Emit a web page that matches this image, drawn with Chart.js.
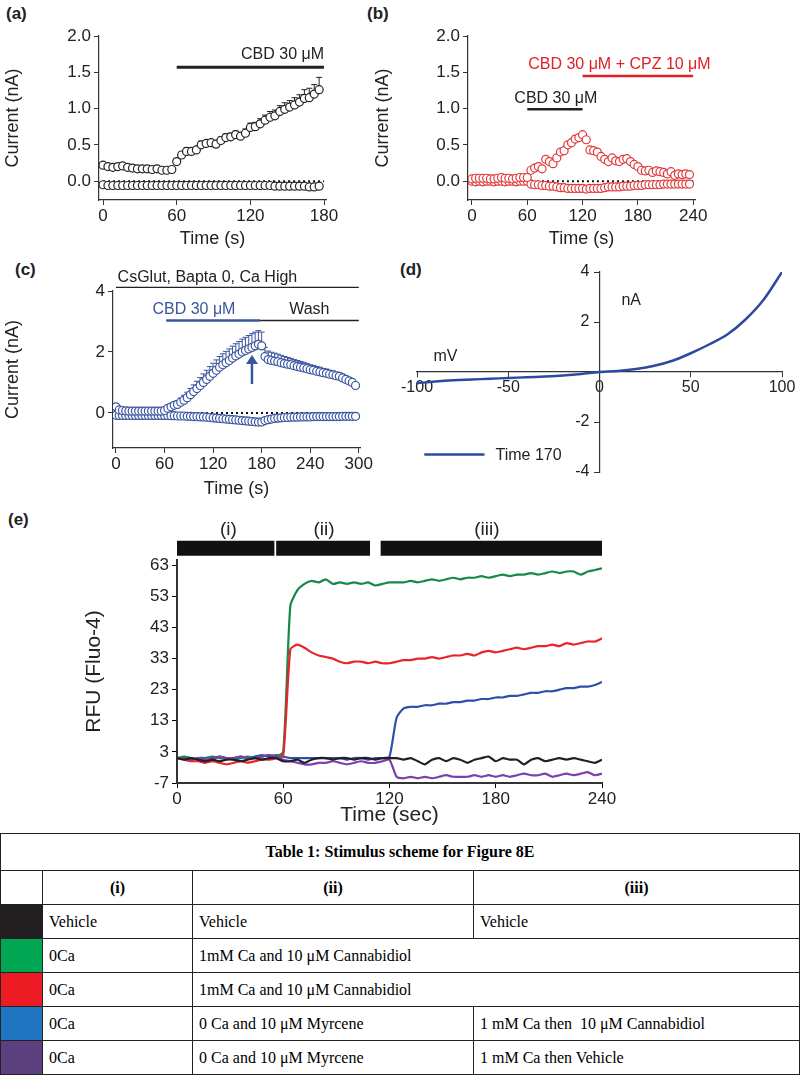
<!DOCTYPE html>
<html>
<head>
<meta charset="utf-8">
<script src="https://cdn.jsdelivr.net/npm/chart.js@4"></script>
<style>
  body { margin: 0; background: #fff; font-family: "Liberation Sans", Arial, sans-serif; }
  #wrap { position: relative; width: 800px; height: 1080px; }
  canvas { position: absolute; }
  .lbl { position: absolute; font-weight: bold; font-size: 17px; color: #222; }
  table { position: absolute; left: 0; top: 833px; width: 800px; border-collapse: collapse;
          font-family: "Liberation Serif", "Times New Roman", serif; font-size: 16px; }
  td, th { border: 1px solid #222; padding: 0 6px; height: 33px; text-align: left; }
  th { font-weight: bold; text-align: center; }
</style>
</head>
<body>
<div id="wrap">
  <div class="lbl" style="left:6px;top:4px">(a)</div>
  <div class="lbl" style="left:367px;top:4px">(b)</div>
  <div class="lbl" style="left:15px;top:260px">(c)</div>
  <div class="lbl" style="left:400px;top:260px">(d)</div>
  <div class="lbl" style="left:8px;top:510px">(e)</div>
  <canvas id="ca"></canvas>
  <canvas id="cb"></canvas>
  <canvas id="cc"></canvas>
  <canvas id="cd"></canvas>
  <canvas id="ce"></canvas>
  <table>
    <tr><th colspan="4" style="height:36px">Table 1: Stimulus scheme for Figure 8E</th></tr>
    <tr><th style="width:29px"></th><th style="width:137px">(i)</th><th style="width:268px">(ii)</th><th>(iii)</th></tr>
    <tr><td style="background:#231f20"></td><td>Vehicle</td><td>Vehicle</td><td>Vehicle</td></tr>
    <tr><td style="background:#00a651"></td><td>0Ca</td><td colspan="2">1mM Ca and 10 &mu;M Cannabidiol</td></tr>
    <tr><td style="background:#ed1c24"></td><td>0Ca</td><td colspan="2">1mM Ca and 10 &mu;M Cannabidiol</td></tr>
    <tr><td style="background:#1f75bf"></td><td>0Ca</td><td>0 Ca and 10 &mu;M Myrcene</td><td>1 mM Ca then&nbsp; 10 &mu;M Cannabidiol</td></tr>
    <tr><td style="background:#5b3f7e"></td><td>0Ca</td><td>0 Ca and 10 &mu;M Myrcene</td><td>1 mM Ca then Vehicle</td></tr>
  </table>
</div>
<script>
// (a) CBD 30 uM, muestras cada 4 s
const tiempoA = Array.from({ length: 45 }, (_, i) => i * 4);
const arribaA = [0.22,0.2,0.19,0.2,0.21,0.19,0.18,0.17,0.17,0.17,0.16,0.17,0.15,0.15,0.16,
  0.27,0.36,0.41,0.41,0.43,0.5,0.52,0.53,0.51,0.56,0.6,0.61,0.64,0.62,0.66,0.74,0.75,0.79,0.84,0.88,
  0.9,0.96,0.99,1.02,1.05,1.09,1.14,1.15,1.2,1.26];
const errorA = [0.03,0.03,0.03,0.03,0.03,0.03,0.03,0.03,0.03,0.03,0.03,0.03,0.03,0.03,0.03,
  0.03,0.04,0.05,0.04,0.04,0.05,0.04,0.04,0.04,0.05,0.05,0.05,0.05,0.05,0.06,0.06,0.06,0.07,0.07,0.08,
  0.08,0.08,0.09,0.09,0.1,0.1,0.12,0.13,0.13,0.17];
const abajoA = [-0.05,-0.06,-0.06,-0.06,-0.06,-0.06,-0.06,-0.06,-0.06,-0.06,-0.06,-0.06,-0.06,-0.06,-0.06,
  -0.06,-0.06,-0.06,-0.06,-0.06,-0.06,-0.06,-0.06,-0.06,-0.06,-0.06,-0.06,-0.06,-0.06,-0.06,-0.06,-0.06,-0.06,-0.06,-0.06,
  -0.07,-0.07,-0.07,-0.07,-0.07,-0.07,-0.07,-0.08,-0.08,-0.07];
const ticksXA = [0, 60, 120, 180];
const ticksY_AB = [0, 0.5, 1, 1.5, 2];

// (b) CBD + CPZ
const tiempoB = Array.from({ length: 60 }, (_, i) => i * 4);
const arribaB = [0.03,0.04,0.04,0.04,0.04,0.03,0.03,0.04,0.05,0.04,0.04,0.03,0.04,0.05,0.05,
  0.05,0.15,0.18,0.2,0.17,0.3,0.27,0.24,0.32,0.4,0.42,0.5,0.53,0.58,0.6,0.64,
  0.57,0.43,0.42,0.4,0.34,0.3,0.27,0.32,0.28,0.27,0.3,0.31,0.27,0.23,0.2,0.15,0.14,0.15,0.12,0.14,
  0.13,0.12,0.1,0.13,0.08,0.1,0.09,0.1,0.09];
const abajoB = [0,-0.01,0,-0.01,0,0,-0.01,0,0,-0.01,0,0,-0.01,0,0,
  0,-0.04,-0.05,-0.05,-0.06,-0.06,-0.07,-0.07,-0.08,-0.09,-0.09,-0.1,-0.1,-0.1,-0.1,-0.1,
  -0.11,-0.1,-0.1,-0.1,-0.1,-0.09,-0.08,-0.08,-0.08,-0.08,-0.07,-0.07,-0.07,-0.06,-0.06,-0.06,-0.05,-0.05,-0.05,-0.05,
  -0.05,-0.04,-0.04,-0.04,-0.04,-0.04,-0.04,-0.04,-0.04];
const ticksXB = [0, 60, 120, 180, 240];

// (c) CsGlut
const tiempoC = Array.from({ length: 75 }, (_, i) => i * 4);
const arribaC = [0.2,0.1,0.08,0.07,0.06,0.06,0.06,0.06,0.06,0.06,0.06,0.06,0.06,0.06,0.06,0.08,
  0.15,0.2,0.25,0.28,0.35,0.42,0.5,0.6,0.7,0.8,0.9,1.0,1.1,1.2,1.3,1.4,1.5,1.58,1.65,1.72,1.8,1.87,1.93,2.0,2.05,2.1,2.15,2.2,2.25,
  2.2,1.85,1.75,1.72,1.7,1.68,1.65,1.62,1.6,1.58,1.55,1.52,1.5,1.48,1.45,1.42,1.4,1.37,1.35,1.32,
  1.3,1.27,1.25,1.22,1.2,1.15,1.1,1.05,1.0,0.9];
const errorC = [0.05,0.05,0.05,0.05,0.05,0.05,0.05,0.05,0.05,0.05,0.05,0.05,0.05,0.05,0.05,0.05,
  0.06,0.08,0.1,0.12,0.14,0.16,0.18,0.2,0.22,0.24,0.26,0.28,0.3,0.32,0.33,0.34,0.35,0.36,0.37,0.38,0.39,0.4,0.41,0.42,0.43,0.44,0.45,0.45,0.45,
  0.45,0.3,0.28,0.27,0.26,0.25,0.24,0.23,0.22,0.21,0.2,0.2,0.19,0.18,0.17,0.16,0.16,0.15,0.15,0.14,
  0.14,0.13,0.13,0.12,0.12,0.12,0.11,0.11,0.1,0.1];
const abajoC = [-0.08,-0.08,-0.08,-0.08,-0.08,-0.08,-0.08,-0.08,-0.08,-0.08,-0.08,-0.08,-0.08,-0.08,-0.08,-0.08,
  -0.08,-0.09,-0.09,-0.1,-0.1,-0.1,-0.11,-0.11,-0.12,-0.12,-0.13,-0.13,-0.14,-0.15,-0.16,-0.17,-0.18,-0.19,-0.2,-0.21,-0.22,-0.23,-0.24,-0.25,-0.26,-0.27,-0.28,-0.29,-0.3,
  -0.3,-0.25,-0.22,-0.2,-0.18,-0.17,-0.16,-0.15,-0.15,-0.14,-0.14,-0.14,-0.13,-0.13,-0.13,-0.13,-0.12,-0.12,-0.12,-0.12,
  -0.12,-0.12,-0.12,-0.12,-0.12,-0.11,-0.11,-0.11,-0.11,-0.11];
const ticksXC = [0, 60, 120, 180, 240, 300];
const ticksYC = [0, 2, 4];

// (d) curva I-V a Time 170
const voltajeD = [-100,-90,-80,-70,-60,-50,-40,-30,-20,-10,0,10,20,30,40,50,60,70,80,90,100];
const corrienteD = [-0.45,-0.38,-0.33,-0.3,-0.27,-0.24,-0.21,-0.18,-0.14,-0.08,0,0.04,0.12,0.25,0.45,0.75,1.1,1.5,2.1,2.9,4.0];
const ticksXD = [-100, -50, 0, 50, 100];
const ticksYD = [-4, -2, 2, 4];

// (e) RFU Fluo-4, cada 4 s
const tiempoE = Array.from({ length: 61 }, (_, i) => i * 4);
const verdeE = [1,1.5,1,0.5,1,1.5,1,1,0.5,1,1.5,1,1.5,2,1.5,
  3,50,55,57,58,57.5,58.5,57,57.5,57,57.5,57,57.5,56.5,57,57.5,
  57.5,57.5,58,57.5,58,58.5,58,58.5,59,58.5,59,59,59.5,59,59.5,60,59.5,60,60,60.5,
  60,60.5,61,60.5,61,61,60,61,61.5,62];
const rojoE = [1,0.5,0,0,-0.5,0,-0.5,-1,-0.5,0,-0.5,0,0.5,0.5,1,
  2,36,37.5,36.5,35,34,33.5,33,32,31.5,32,32,31.5,32,31.5,31.5,
  32,32.5,32.5,33,33,33.5,33,33.5,34,34,34.5,34,35,35.5,35,35.5,36,36.5,36,36.5,
  37,37,37.5,37,38,37.5,38,38.5,38.5,39.5];
const azulE = [1,1,0.5,1,1,0.5,1.5,1,1,1.5,1,1.5,2,1.5,2,
  1.5,1,1,1,1,1,1,1,1,0.5,1,1,0.5,1,1,1.5,
  14,17,17.5,17.5,18,18,18.5,18.5,19,19,19.5,19.5,20,20,20.5,20.5,21,21,21.5,22,
  22,22.5,22.5,23,23.5,23.5,24,24,24.5,25.5];
const negroE = [1,0.5,1,0.5,0,0.5,0,0.5,0.5,0,0.5,1,0.5,1,1,
  0,0,0.5,-0.5,0.5,1,1,0.5,1,1,0.5,1,1,0.5,1,1,
  1,0.5,1,0,-1,0.5,1,0,1,0.5,-0.5,0.5,1,1.5,0,1,0.5,0.5,-1,0.5,
  1,0,0.5,1,0.5,1,0.5,0,-0.5,0.5];
const moradoE = [1,1,0.5,1,0.5,1,1.5,1,1,1.5,1,1,1.5,2,1.5,
  0.5,0,-0.5,-1,-1,-0.5,-0.5,0,-0.5,-1,-0.5,0,-0.5,-0.5,0,0.5,
  -5,-5.5,-5,-5.5,-5,-5.5,-5,-4.5,-5,-5,-5,-4.5,-5,-4.5,-5,-4.5,-5,-4.5,-4,-4.5,
  -4.5,-4,-5,-4.5,-4,-4.5,-4,-3.5,-4.5,-4];
const ticksXE = [0, 60, 120, 180, 240];
const ticksYE = [-7, 3, 13, 23, 33, 43, 53, 63];

const FUENTE = '"Liberation Sans", Arial, sans-serif';
const GRIS = '#333';

// Coloca el canvas en la página
function colocar(id, caja) {
  const c = document.getElementById(id);
  c.style.left = caja.x + 'px';
  c.style.top = caja.y + 'px';
  c.style.width = caja.w + 'px';
  c.style.height = caja.h + 'px';
  c.width = caja.w; c.height = caja.h;
  return c;
}

function puntos(xs, ys) { return xs.map((x, i) => ({ x, y: ys[i] })); }

function serieCirculos(xs, ys, color) {
  return { data: puntos(xs, ys), showLine: false, pointStyle: 'circle', pointRadius: 4,
    pointBorderWidth: 1.2, borderColor: color, pointBackgroundColor: '#fff', pointBorderColor: color };
}

// Plugin: barras de error, línea punteada en 0 y anotaciones
const anotaciones = {
  id: 'anotaciones',
  beforeDatasetsDraw(chart, args, opts) {
    const ctx = chart.ctx, x = chart.scales.x, y = chart.scales.y;
    if (opts.cero) {
      ctx.save();
      ctx.setLineDash([2, 3]); ctx.lineWidth = 2; ctx.strokeStyle = '#111';
      ctx.beginPath();
      ctx.moveTo(x.getPixelForValue(0), y.getPixelForValue(0));
      ctx.lineTo(x.getPixelForValue(opts.cero), y.getPixelForValue(0));
      ctx.stroke(); ctx.restore();
    }
    if (opts.errores) {
      const e = opts.errores;
      ctx.save(); ctx.strokeStyle = e.color; ctx.lineWidth = 1;
      e.x.forEach((t, i) => {
        const px = x.getPixelForValue(t);
        const y0 = y.getPixelForValue(e.y[i]);
        const y1 = y.getPixelForValue(e.y[i] + e.err[i]);
        ctx.beginPath(); ctx.moveTo(px, y0); ctx.lineTo(px, y1);
        ctx.moveTo(px - 3, y1); ctx.lineTo(px + 3, y1); ctx.stroke();
      });
      ctx.restore();
    }
  },
  afterDraw(chart, args, opts) {
    const ctx = chart.ctx, x = chart.scales.x, y = chart.scales.y;
    (opts.barras || []).forEach(b => {
      ctx.save(); ctx.strokeStyle = b.color; ctx.lineWidth = b.ancho || 2.5;
      ctx.beginPath();
      ctx.moveTo(x.getPixelForValue(b.x0), y.getPixelForValue(b.y));
      ctx.lineTo(x.getPixelForValue(b.x1), y.getPixelForValue(b.y));
      ctx.stroke(); ctx.restore();
    });
    (opts.textos || []).forEach(t => {
      ctx.save(); ctx.fillStyle = t.color || '#222';
      ctx.font = (t.size || 15) + 'px ' + FUENTE;
      ctx.textAlign = t.align || 'left'; ctx.textBaseline = t.base || 'alphabetic';
      ctx.fillText(t.txt, x.getPixelForValue(t.x) + (t.dx || 0), y.getPixelForValue(t.y));
      ctx.restore();
    });
    if (opts.flecha) {
      const f = opts.flecha;
      const px = x.getPixelForValue(f.x), y0 = y.getPixelForValue(f.y0), y1 = y.getPixelForValue(f.y1);
      ctx.save(); ctx.strokeStyle = f.color; ctx.fillStyle = f.color; ctx.lineWidth = 2.5;
      ctx.beginPath(); ctx.moveTo(px, y0); ctx.lineTo(px, y1 + 6); ctx.stroke();
      ctx.beginPath(); ctx.moveTo(px, y1); ctx.lineTo(px - 6, y1 + 9); ctx.lineTo(px + 6, y1 + 9); ctx.fill();
      ctx.restore();
    }
  }
};

// Escalas estándar
function escalas(area, caja, xr, yr, tituloX, tituloY, tamTick, tamTitulo) {
  return {
    x: { type: 'linear', min: xr.min, max: xr.max,
      afterBuildTicks: s => { s.ticks = xr.ticks.map(v => ({ value: v })); },
      afterFit: s => { s.height = caja.y + caja.h - area.bottom; },
      grid: { drawOnChartArea: false, tickLength: 5, color: GRIS },
      border: { color: GRIS, width: 1.2 },
      ticks: { color: '#222', font: { size: tamTick, family: FUENTE }, padding: 1, maxRotation: 0 },
      title: { display: true, text: tituloX, color: '#222', font: { size: tamTitulo, family: FUENTE }, padding: 0 } },
    y: { type: 'linear', min: yr.min, max: yr.max,
      afterBuildTicks: s => { s.ticks = yr.ticks.map(v => ({ value: v })); },
      afterFit: s => { s.width = area.left - caja.x; },
      grid: { drawOnChartArea: false, tickLength: 5, color: GRIS },
      border: { color: GRIS, width: 1.2 },
      ticks: { color: '#222', font: { size: tamTick, family: FUENTE }, padding: 3, callback: yr.fmt || (v => v) },
      title: { display: true, text: tituloY, color: '#222', font: { size: tamTitulo, family: FUENTE }, padding: 2 } }
  };
}

function relleno(area, caja) {
  return { top: area.top - caja.y, right: caja.x + caja.w - area.right, left: 0, bottom: 0 };
}

function panel(id, caja, area, datasets, sc, plug) {
  colocar(id, caja);
  return new Chart(document.getElementById(id), {
    type: 'scatter',
    data: { datasets },
    options: {
      responsive: false, animation: false,
      layout: { padding: relleno(area, caja) },
      plugins: { legend: { display: false }, tooltip: { enabled: false }, anotaciones: plug },
      scales: sc
    },
    plugins: [anotaciones]
  });
}

// Panel (a)
const cajaA = { x: 0, y: 20, w: 350, h: 230 };
const areaA = { left: 99, top: 36, right: 326, bottom: 200 };
panel('ca', cajaA, areaA,
  [serieCirculos(tiempoA, arribaA, '#222'), serieCirculos(tiempoA, abajoA, '#222')],
  escalas(areaA, cajaA, { min: -3.3, max: 181.6, ticks: ticksXA },
    { min: -0.26, max: 2.0, ticks: ticksY_AB, fmt: v => v.toFixed(1) }, 'Time (s)', 'Current (nA)', 17, 18),
  { cero: 180, errores: { x: tiempoA, y: arribaA, err: errorA, color: '#222' },
    barras: [{ x0: 60, x1: 180, y: 1.57, color: '#222', ancho: 3 }],
    textos: [{ txt: 'CBD 30 \u03bcM', x: 180, y: 1.68, align: 'right', size: 16 }] });

// Panel (b)
const cajaB = { x: 370, y: 20, w: 350, h: 230 };
const areaB = { left: 468, top: 36, right: 695, bottom: 200 };
panel('cb', cajaB, areaB,
  [serieCirculos(tiempoB, arribaB, '#e0393b'), serieCirculos(tiempoB, abajoB, '#e0393b')],
  escalas(areaB, cajaB, { min: -4.3, max: 242, ticks: ticksXB },
    { min: -0.26, max: 2.0, ticks: ticksY_AB, fmt: v => v.toFixed(1) }, 'Time (s)', 'Current (nA)', 17, 18),
  { cero: 240,
    barras: [{ x0: 120, x1: 240, y: 1.45, color: '#e02027', ancho: 2.5 },
             { x0: 60, x1: 120, y: 0.99, color: '#222', ancho: 2.5 }],
    textos: [{ txt: 'CBD 30 \u03bcM + CPZ 10 \u03bcM', x: 61, y: 1.54, color: '#e02027', size: 16 },
             { txt: 'CBD 30 \u03bcM', x: 46, y: 1.08, size: 16 }] });

// Panel (c)
const cajaC = { x: 0, y: 260, w: 400, h: 240 };
const areaC = { left: 113, top: 291, right: 360, bottom: 448 };
panel('cc', cajaC, areaC,
  [serieCirculos(tiempoC, arribaC, '#3a55a0'), serieCirculos(tiempoC, abajoC, '#3a55a0')],
  escalas(areaC, cajaC, { min: -3.7, max: 301.5, ticks: ticksXC },
    { min: -1.15, max: 4, ticks: ticksYC }, 'Time (s)', 'Current (nA)', 17, 18),
  { cero: 300, errores: { x: tiempoC, y: arribaC, err: errorC, color: '#3a55a0' },
    barras: [{ x0: 0, x1: 300, y: 4.12, color: '#222', ancho: 1.2 },
             { x0: 62, x1: 178, y: 3.03, color: '#3a55a0', ancho: 2.5 },
             { x0: 178, x1: 300, y: 3.03, color: '#222', ancho: 1.5 }],
    textos: [{ txt: 'CsGlut, Bapta 0, Ca High', x: 2, y: 4.3, size: 16 },
             { txt: 'CBD 30 \u03bcM', x: 45, y: 3.25, color: '#3a55a0', size: 16 },
             { txt: 'Wash', x: 214, y: 3.25, size: 16 }],
    flecha: { x: 168, y0: 0.95, y1: 1.9, color: '#3a55a0' } });

// Panel (d): ejes cruzados en el origen
const cajaD = { x: 400, y: 255, w: 400, h: 235 };
const areaD = { left: 468, top: 272, right: 782, bottom: 472 };
colocar('cd', cajaD);
const rellenoD = relleno(areaD, cajaD);
rellenoD.bottom = cajaD.y + cajaD.h - areaD.bottom;
new Chart(document.getElementById('cd'), {
  type: 'line',
  data: { datasets: [{ label: 'Time 170', data: puntos(voltajeD, corrienteD), borderColor: '#2e4aa0',
    borderWidth: 2.5, pointRadius: 0, tension: 0.35, fill: false }] },
  options: {
    responsive: false, animation: false,
    layout: { padding: rellenoD },
    plugins: { legend: { display: false }, tooltip: { enabled: false },
      anotaciones: {
        barras: [{ x0: -96, x1: -63, y: -3.3, color: '#2e4aa0', ancho: 2.5 }],
        textos: ticksYD.map(v => ({ txt: String(v), x: 0, dx: -10, y: v, align: 'right', base: 'middle', size: 16 }))
          .concat([{ txt: 'Time 170', x: -57, y: -3.5, size: 16 },
                   { txt: 'mV', x: -91, y: 0.45, size: 16 },
                   { txt: 'nA', x: 12, y: 2.7, size: 16 }]) } },
    scales: {
      x: { type: 'linear', min: -100, max: 100, position: { y: 0 },
        afterBuildTicks: s => { s.ticks = ticksXD.map(v => ({ value: v })); },
        grid: { drawOnChartArea: false, tickLength: 5, color: GRIS }, border: { color: GRIS, width: 1.2 },
        ticks: { color: '#222', font: { size: 16, family: FUENTE }, padding: 1, maxRotation: 0 } },
      y: { type: 'linear', min: -4, max: 4, position: { x: 0 },
        afterBuildTicks: s => { s.ticks = ticksYD.map(v => ({ value: v })); },
        grid: { drawOnChartArea: false, tickLength: 5, color: GRIS }, border: { color: GRIS, width: 1.2 },
        ticks: { display: false } }
    }
  },
  plugins: [anotaciones]
});

// Panel (e)
const cajaE = { x: 80, y: 510, w: 560, h: 318 };
const areaE = { left: 177, top: 560, right: 602, bottom: 783 };
function serieLinea(ys, color) {
  return { data: puntos(tiempoE, ys), showLine: true, borderColor: color, borderWidth: 2.2,
    pointRadius: 0, tension: 0.2 };
}
const escE = escalas(areaE, cajaE, { min: 0, max: 240, ticks: ticksXE },
  { min: -7, max: 64.7, ticks: ticksYE }, 'Time (sec)', 'RFU (Fluo-4)', 17, 21);
escE.x.border.width = 2; escE.y.border.width = 2;
escE.y.grid.color = '#000'; escE.x.grid.color = '#000';
panel('ce', cajaE, areaE,
  [serieLinea(negroE, '#231f20'), serieLinea(moradoE, '#7a3fb0'), serieLinea(rojoE, '#e8232a'),
   serieLinea(verdeE, '#16884a'), serieLinea(azulE, '#2c4fa8')],
  escE,
  { barras: [{ x0: 0, x1: 55, y: 68.5, color: '#111', ancho: 15 },
             { x0: 56, x1: 109, y: 68.5, color: '#111', ancho: 15 },
             { x0: 115, x1: 240, y: 68.5, color: '#111', ancho: 15 }],
    textos: [{ txt: '(i)', x: 29, y: 72.6, align: 'center', size: 19 },
             { txt: '(ii)', x: 83, y: 72.6, align: 'center', size: 19 },
             { txt: '(iii)', x: 175, y: 72.6, align: 'center', size: 19 }] });
</script>
</body>
</html>
